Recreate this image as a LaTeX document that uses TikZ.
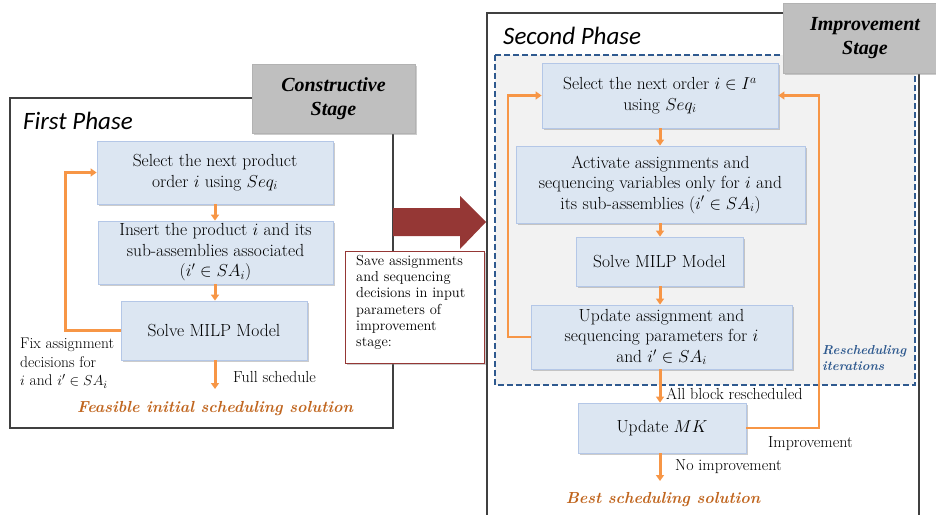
\documentclass[tikz,border=0pt]{standalone}
\usepackage{fontspec}
\usetikzlibrary{arrows.meta,shadows}
\newfontfamily\carlito{Carlito}
\newfontfamily\libserif{Liberation Serif}
\definecolor{boxfill}{HTML}{DCE6F2}
\definecolor{boxline}{HTML}{B4C7E7}
\definecolor{stagegray}{HTML}{BFBFBF}
\definecolor{orng}{HTML}{F79646}
\definecolor{brownorange}{HTML}{C0651E}
\definecolor{dkred}{HTML}{953735}
\definecolor{blu}{HTML}{2F5A8F}
\definecolor{regionfill}{HTML}{F2F2F2}
\definecolor{phaseline}{HTML}{404040}
\tikzset{
  shad/.style={drop shadow={shadow xshift=1.5pt,shadow yshift=-1.5pt,opacity=.4,fill=gray}},
  procbox/.style={draw=boxline, fill=boxfill, line width=0.8pt, align=center, inner sep=2pt,
    font=\fontsize{17.5}{20.5}\selectfont, shad},
  stagebox/.style={draw=gray!60, fill=stagegray, line width=0.4pt, shad},
  phase/.style={draw=phaseline, line width=1.5pt},
  flow/.style={draw=orng, line width=3pt, -{Triangle[width=8pt,length=6pt]}},
  loopline/.style={draw=orng, line width=2.5pt, -{Triangle[width=8pt,length=6pt]}},
  lbl/.style={font=\fontsize{16}{18}\selectfont, inner sep=0pt},
  phasetitle/.style={font=\carlito\itshape\fontsize{25}{28}\selectfont, anchor=west, inner sep=0pt},
  stagetext/.style={font=\libserif\bfseries\itshape\fontsize{20}{24}\selectfont, align=center, inner sep=0pt},
  result/.style={font=\bfseries\itshape\fontsize{16}{20}\selectfont, text=brownorange, inner sep=0pt}
}
\begin{document}
\begin{tikzpicture}[x=1pt,y=-1pt]
\useasboundingbox (0,0) rectangle (936,514);

% ---------- First phase ----------
\draw[phase] (10,98) rectangle (393,428);
\node[stagebox, minimum width=163pt, minimum height=69pt] (cstage) at (333.5,98.5) {};
\node[stagetext] (cstagetxt) at (333.5,99) {Constructive\\Stage};
\node[phasetitle] (fp) at (23,121) {First Phase};

\node[procbox, minimum width=236pt, minimum height=63pt] (b1) at (215,172.5)
  {Select the next product\\order $i$ using $Seq_i$};
\node[procbox, minimum width=235pt, minimum height=63pt] (b2) at (215.5,252.5)
  {Insert the product $i$ and its\\sub-assemblies associated\\$(i'\in SA_i)$};
\node[procbox, minimum width=186pt, minimum height=59pt] (b3) at (214,330.5)
  {Solve MILP Model};
\coordinate (e1) at (215,389);

\draw[flow] (b1.south -| 215,0) -- (b2.north -| 215,0);
\draw[flow] (b2.south -| 215,0) -- (b3.north -| 215,0);
\draw[flow] (b3.south -| 215,0) -- (e1);
\draw[loopline] (b3.west) -- ++(-55,0) |- (b1.west);

\node[lbl, anchor=west] (fs) at (233,377) {Full schedule};
\node[lbl, anchor=north west, align=left, font=\fontsize{15.5}{18.5}\selectfont] (fix) at (20,338)
  {Fix assignment\\decisions for\\$i$ and $i'\in SA_i$};
\node[result] (feas) at (215,409) {Feasible initial scheduling solution};

% ---------- transfer arrow ----------
\fill[dkred] (393,208) -- (460,208) -- (460,196) -- (486,222) -- (460,249) -- (460,236) -- (393,236) -- cycle;
\node[draw=dkred, fill=white, line width=1pt, shad, minimum width=139pt, minimum height=112pt] (save) at (414.5,307) {};
\node[anchor=north west, align=left, inner sep=0pt, text width=126pt, font=\fontsize{14.5}{16.2}\selectfont] (savetxt) at (356,255)
  {Save assignments\\and sequencing\\decisions in input\\parameters of\\improvement\\stage:};

% ---------- Second phase ----------
\draw[phase] (487,520) -- (487,13) -- (919,13) -- (919,520);
\node[phasetitle] (sp) at (503,36) {Second Phase};
\draw[draw=blu, fill=regionfill, line width=1.6pt, dash pattern=on 6pt off 3pt] (495,55) rectangle (915,385);
\node[stagebox, minimum width=160pt, minimum height=70pt] (istage) at (863,38) {};
\node[stagetext] (istagetxt) at (865,38.5) {Improvement\\Stage};

\node[procbox, minimum width=236pt, minimum height=65pt] (A) at (660,95.5)
  {Select the next order $i\in I^a$\\using $Seq_i$};
\node[procbox, minimum width=289pt, minimum height=77pt] (B) at (660.5,184.5)
  {Activate assignments and\\sequencing variables only for $i$ and\\its sub-assemblies $(i'\in SA_i)$};
\node[procbox, minimum width=167pt, minimum height=49pt] (C) at (659.5,261.5)
  {Solve MILP Model};
\node[procbox, minimum width=261pt, minimum height=64pt] (D) at (661.5,337)
  {Update assignment and\\sequencing parameters for $i$\\and $i'\in SA_i$};
\node[procbox, minimum width=168pt, minimum height=50pt] (E) at (662,428)
  {Update $MK$};
\coordinate (e2) at (660,481);

\draw[flow] (A.south -| 660,0) -- (B.north -| 660,0);
\draw[flow] (B.south -| 660,0) -- (C.north -| 660,0);
\draw[flow] (C.south -| 660,0) -- (D.north -| 660,0);
\draw[flow] (D.south -| 660,0) -- (E.north -| 660,0);
\draw[flow] (E.south -| 660,0) -- (e2);
\draw[loopline] (D.west) -- (508,337) |- (A.west);
\draw[loopline] (E.east) -- (819,428) |- (A.east);

\node[lbl, anchor=west] (abr) at (666,394) {All block rescheduled};
\node[lbl, anchor=west] (imp) at (768,444) {Improvement};
\node[lbl, anchor=west] (noimp) at (675,467) {No improvement};
\node[result] (best) at (663,500) {Best scheduling solution};
\node[anchor=west, align=left, inner sep=0pt, text=blu, font=\bfseries\itshape\fontsize{13}{16}\selectfont] (resch) at (822,358)
  {Rescheduling\\iterations};
\end{tikzpicture}
\end{document}
